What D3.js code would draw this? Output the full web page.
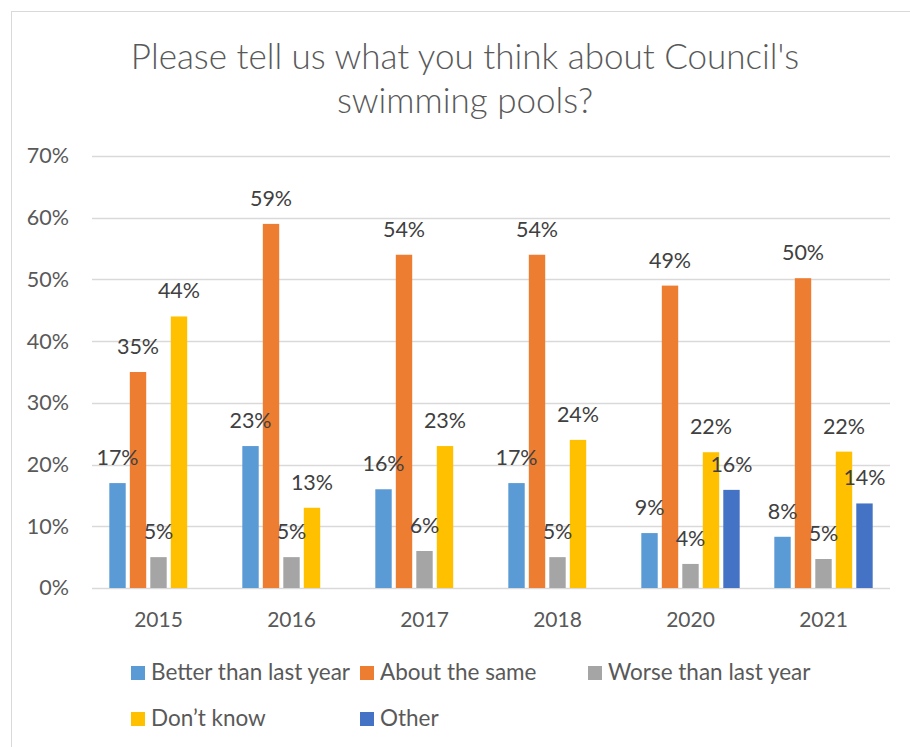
<!DOCTYPE html>
<html>
<head>
<meta charset="utf-8">
<script src="https://cdn.jsdelivr.net/npm/d3@7"></script>
<style>
  body { margin: 0; background: #fff; }
  text { font-family: Lato, "Open Sans", sans-serif; }
</style>
</head>
<body>
<div id="chart"></div>
<script>
const years = ["2015", "2016", "2017", "2018", "2020", "2021"];
const seriesNames = ["Better than last year", "About the same", "Worse than last year", "Don\u2019t know", "Other"];
const better = [17, 23, 16, 17, 8.9, 8.3];
const same = [35, 59, 54, 54, 49, 50.2];
const worse = [5, 5, 6, 5, 3.9, 4.7];
const dontKnow = [44, 13, 23, 24, 22, 22.1];
const other = [null, null, null, null, 15.9, 13.7];
const yTicks = [0, 10, 20, 30, 40, 50, 60, 70];
const colors = ["#5B9BD5", "#ED7D31", "#A5A5A5", "#FFC000", "#4472C4"];

const allSeries = [better, same, worse, dontKnow, other];

const W = 910, H = 747;
const margin = {top: 156, right: 20, bottom: 159, left: 92};
const width = 890 - margin.left;
const height = 588 - margin.top;

const svg = d3.select("#chart").append("svg")
    .attr("width", W)
    .attr("height", H);

// chart frame
svg.append("rect")
    .attr("x", 11.5).attr("y", 11.5)
    .attr("width", W + 20).attr("height", H + 20)
    .attr("fill", "#fff")
    .attr("stroke", "#d9d9d9");

// title
const title = svg.append("text")
    .attr("text-anchor", "middle")
    .attr("font-size", 35)
    .attr("font-weight", 300)
    .attr("fill", "#595959");
title.append("tspan").attr("x", 465).attr("y", 69)
    .text("Please tell us what you think about Council's");
title.append("tspan").attr("x", 465).attr("y", 113)
    .text("swimming pools?");

const g = svg.append("g")
    .attr("transform", `translate(${margin.left},${margin.top})`);

const x0 = d3.scaleBand().domain(years).range([0, width]);
const x1 = d3.scaleBand().domain(d3.range(seriesNames.length))
    .range([0, x0.bandwidth()])
    .paddingInner(0.2)
    .paddingOuter(0.845);
const y = d3.scaleLinear().domain([0, 70]).range([height, 0]);

// gridlines
g.append("g")
    .selectAll("line")
    .data(yTicks)
    .enter().append("line")
    .attr("x1", 0).attr("x2", width)
    .attr("y1", d => Math.round(y(d)) + 0.5)
    .attr("y2", d => Math.round(y(d)) + 0.5)
    .attr("stroke", "#d9d9d9")
    .attr("stroke-width", 1.5);

// y axis labels
const yAxis = g.append("g")
    .call(d3.axisLeft(y).tickValues(yTicks).tickSize(0).tickPadding(23).tickFormat(d => d + "%"));
yAxis.select(".domain").remove();
yAxis.selectAll("text")
    .attr("font-family", "Lato, sans-serif")
    .attr("font-size", 21.5)
    .attr("fill", "#595959");

// x axis labels
const xAxis = g.append("g")
    .attr("transform", `translate(0,${height})`)
    .call(d3.axisBottom(x0).tickSize(0).tickPadding(24));
xAxis.select(".domain").remove();
xAxis.selectAll("text")
    .attr("font-family", "Lato, sans-serif")
    .attr("font-size", 21)
    .attr("fill", "#595959");

// bars
const rows = [];
years.forEach((yr, i) => {
    allSeries.forEach((s, k) => {
        if (s[i] != null) rows.push({year: yr, k: k, v: s[i]});
    });
});

g.append("g")
    .selectAll("rect")
    .data(rows)
    .enter().append("rect")
    .attr("x", d => x0(d.year) + x1(d.k))
    .attr("y", d => y(d.v))
    .attr("width", x1.bandwidth())
    .attr("height", d => height - y(d.v))
    .attr("fill", d => colors[d.k]);

// data labels
g.append("g")
    .selectAll("text")
    .data(rows)
    .enter().append("text")
    .attr("x", d => x0(d.year) + x1(d.k) + x1.bandwidth() / 2)
    .attr("y", d => y(d.v) - 18)
    .attr("text-anchor", "middle")
    .attr("font-size", 21.5)
    .attr("fill", "#404040")
    .text(d => Math.round(d.v) + "%");

// legend
const legendPos = [[131, 673], [360, 673], [588, 673], [131, 719], [360, 719]];
const legend = svg.append("g")
    .selectAll("g")
    .data(seriesNames)
    .enter().append("g")
    .attr("transform", (d, i) => `translate(${legendPos[i][0]},${legendPos[i][1]})`);

legend.append("rect")
    .attr("x", 0).attr("y", -7)
    .attr("width", 14).attr("height", 14)
    .attr("fill", (d, i) => colors[i]);

legend.append("text")
    .attr("x", 20)
    .attr("y", 7)
    .attr("font-size", 22.5)
    .attr("fill", "#595959")
    .text(d => d);
</script>
</body>
</html>
